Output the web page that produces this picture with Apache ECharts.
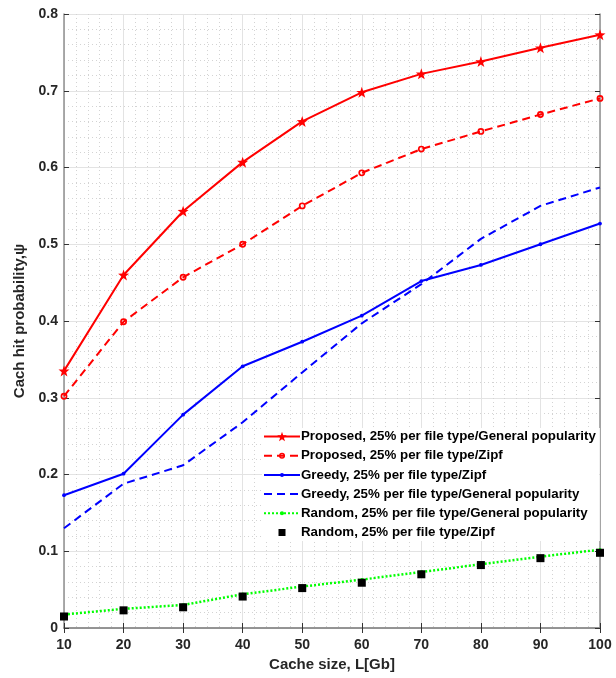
<!DOCTYPE html>
<html>
<head>
<meta charset="utf-8">
<script src="https://cdn.jsdelivr.net/npm/echarts@6/dist/echarts.min.js"></script>
<style>html,body{margin:0;padding:0;background:#fff;}#c{width:616px;height:678px;}</style>
</head>
<body>
<div id="c"></div>
<script>
const cacheSizes = [10, 20, 30, 40, 50, 60, 70, 80, 90, 100];
const proposedGeneral = [0.335, 0.460, 0.543, 0.607, 0.660, 0.698, 0.722, 0.738, 0.756, 0.773];
const proposedZipf = [0.302, 0.399, 0.457, 0.500, 0.550, 0.593, 0.624, 0.647, 0.669, 0.690];
const greedyZipf = [0.173, 0.201, 0.278, 0.341, 0.373, 0.407, 0.452, 0.473, 0.500, 0.527];
const greedyGeneral = [0.130, 0.188, 0.212, 0.268, 0.333, 0.397, 0.448, 0.507, 0.550, 0.574];
const randomGeneral = [0.0175, 0.025, 0.030, 0.044, 0.054, 0.063, 0.073, 0.083, 0.093, 0.102];
const randomZipf = [0.015, 0.023, 0.027, 0.041, 0.052, 0.059, 0.070, 0.082, 0.091, 0.098];
const seriesNames = [
  'Proposed, 25% per file type/General popularity',
  'Proposed, 25% per file type/Zipf',
  'Greedy, 25% per file type/Zipf',
  'Greedy, 25% per file type/General popularity',
  'Random, 25% per file type/General popularity',
  'Random, 25% per file type/Zipf'
];

const pair = arr => cacheSizes.map((x, i) => [x, arr[i]]);
// marker shapes (padded boxes so the legend markers stay small)
const starSym = 'path://M0,-10 L2.35,-3.24 L9.51,-3.09 L3.80,1.24 L5.88,8.09 L0,4 L-5.88,8.09 L-3.80,1.24 L-9.51,-3.09 L-2.35,-3.24 Z';
const ringSym = 'path://M-10,-10 M10,10 M-6.25,0 A6.25,6.25 0 1,0 6.25,0 A6.25,6.25 0 1,0 -6.25,0 Z M-3.2,0 A3.2,3.2 0 1,1 3.2,0 A3.2,3.2 0 1,1 -3.2,0 Z';
const dotSym = 'path://M-10,-10 M10,10 M-4.2,0 A4.2,4.2 0 1,0 4.2,0 A4.2,4.2 0 1,0 -4.2,0 Z';
const sqSym = 'path://M-10,-10 M10,10 M-7.3,-7.3 L7.3,-7.3 L7.3,7.3 L-7.3,7.3 Z';
const axisCol = '#8f8f8f';
const fam = 'Liberation Sans, Arial, sans-serif';
const labelFont = {fontFamily: fam, fontWeight: 'bold', fontSize: 14, color: '#262626'};

const chart = echarts.init(document.getElementById('c'), null, {renderer: 'canvas'});
chart.setOption({
  animation: false,
  backgroundColor: '#fff',
  grid: {left: 64, right: 16, top: 14, bottom: 50, containLabel: false},
  legend: {
    orient: 'vertical', left: 262, top: 428,
    itemWidth: 36, itemHeight: 12, itemGap: 6.2,
    backgroundColor: '#fff', padding: [2, 4, 2, 1],
    textStyle: {fontFamily: fam, fontWeight: 'bold', fontSize: 13.3, lineHeight: 12, color: '#000', padding: [0, 0, 0, -4]},
    data: [
      seriesNames[0], seriesNames[1], seriesNames[2],
      {name: seriesNames[3], itemStyle: {opacity: 0}},
      seriesNames[4], seriesNames[5]
    ]
  },
  xAxis: [{
    type: 'value', min: 10, max: 100, interval: 10,
    name: 'Cache size, L[Gb]', nameLocation: 'middle', nameGap: 27,
    nameTextStyle: {fontFamily: fam, fontWeight: 'bold', fontSize: 15, color: '#262626'},
    axisLine: {show: true, lineStyle: {color: axisCol, width: 1.5}},
    axisTick: {show: true, inside: true, length: 5, lineStyle: {color: '#333'}},
    axisLabel: Object.assign({margin: 10}, labelFont),
    splitLine: {show: true, lineStyle: {color: '#e3e3e3', width: 1}},
    minorTick: {show: false, splitNumber: 5},
    minorSplitLine: {show: true, lineStyle: {color: '#d3d3d3', type: [1, 3], width: 1}}
  }, {
    type: 'value', position: 'top', min: 10, max: 100, interval: 10,
    axisLine: {show: true, lineStyle: {color: axisCol, width: 1.5}},
    axisTick: {show: true, inside: true, length: 5, lineStyle: {color: '#333'}},
    axisLabel: {show: false}, splitLine: {show: false}
  }],
  yAxis: [{
    type: 'value', min: 0, max: 0.8, interval: 0.1,
    name: 'Cach hit probability,\u03c8', nameLocation: 'middle', nameGap: 33,
    nameTextStyle: {fontFamily: fam, fontWeight: 'bold', fontSize: 15, color: '#262626'},
    axisLine: {show: true, lineStyle: {color: axisCol, width: 1.5}},
    axisTick: {show: true, inside: true, length: 5, lineStyle: {color: '#333'}},
    axisLabel: Object.assign({margin: 6, formatter: v => (Math.round(v * 10) / 10).toString()}, labelFont),
    splitLine: {show: true, lineStyle: {color: '#e3e3e3', width: 1}},
    minorTick: {show: false, splitNumber: 5},
    minorSplitLine: {show: true, lineStyle: {color: '#d3d3d3', type: [1, 3], width: 1}}
  }, {
    type: 'value', position: 'right', min: 0, max: 0.8, interval: 0.1,
    axisLine: {show: true, lineStyle: {color: axisCol, width: 1.5}},
    axisTick: {show: true, inside: true, length: 5, lineStyle: {color: '#333'}},
    axisLabel: {show: false}, splitLine: {show: false}
  }],
  series: [
    {name: seriesNames[0], type: 'line', data: pair(proposedGeneral), symbol: starSym, symbolSize: 11,
     lineStyle: {color: '#ff0000', width: 2}, itemStyle: {color: '#ff0000'}},
    {name: seriesNames[1], type: 'line', data: pair(proposedZipf), symbol: ringSym, symbolSize: 11,
     lineStyle: {color: '#ff0000', width: 2, type: [8, 5]}, itemStyle: {color: '#ff0000'}},
    {name: seriesNames[2], type: 'line', data: pair(greedyZipf), symbol: dotSym, symbolSize: 9,
     lineStyle: {color: '#0000ff', width: 2}, itemStyle: {color: '#0000ff'}},
    {name: seriesNames[3], type: 'line', data: pair(greedyGeneral), symbol: 'none',
     lineStyle: {color: '#0000ff', width: 2, type: [8, 5]}, itemStyle: {color: '#0000ff'}},
    {name: seriesNames[4], type: 'line', data: pair(randomGeneral), symbol: dotSym, symbolSize: 8,
     lineStyle: {color: '#00ff00', width: 2.5, type: [2, 2]}, itemStyle: {color: '#00ff00'}},
    {name: seriesNames[5], type: 'line', data: pair(randomZipf), symbol: sqSym, symbolSize: 11,
     lineStyle: {width: 0, opacity: 0}, itemStyle: {color: '#000000'}, z: 5}
  ]
});
</script>
</body>
</html>
